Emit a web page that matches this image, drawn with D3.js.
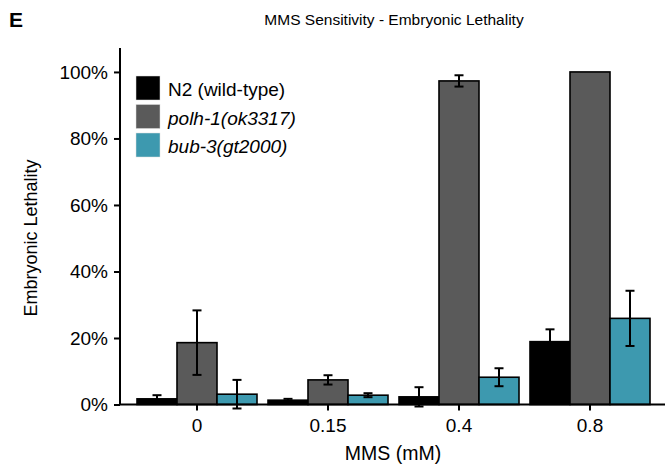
<!DOCTYPE html>
<html><head><meta charset="utf-8">
<script src="https://cdn.jsdelivr.net/npm/d3@7/dist/d3.min.js"></script>
<style>body{margin:0;background:#fff}svg{display:block;font-family:"Liberation Sans",Arial,sans-serif}</style>
</head><body>
<svg id="c" width="666" height="468"></svg>
<script>
const categories = ["0", "0.15", "0.4", "0.8"];
const seriesNames = ["N2 (wild-type)", "polh-1(ok3317)", "bub-3(gt2000)"];
const seriesItalic = [false, true, true];
const seriesColors = ["#000000", "#5a5a5a", "#3d99af"];
const n2Values = [0.017, 0.013, 0.023, 0.189];
const n2Errors = [0.011, 0.004, 0.029, 0.037];
const polhValues = [0.186, 0.074, 0.973, 1.0];
const polhErrors = [0.097, 0.014, 0.017, 0.0];
const bubValues = [0.031, 0.028, 0.082, 0.259];
const bubErrors = [0.043, 0.006, 0.027, 0.083];
const yTicks = [0, 0.2, 0.4, 0.6, 0.8, 1.0];

const values = [n2Values, polhValues, bubValues];
const errors = [n2Errors, polhErrors, bubErrors];

const svg = d3.select("#c");
const x0 = d3.scaleBand().domain(categories).range([131.5, 655.5]).padding(0);
const x1 = d3.scaleBand().domain(seriesNames).range([5.5, 125.5]).padding(0);
const y = d3.scaleLinear().domain([0, 1.072]).range([404.5, 48]);

// bars
const groups = svg.append("g").selectAll("g").data(categories).join("g")
  .attr("transform", d => `translate(${x0(d)},0)`);
groups.each(function(cat, ci) {
  const g = d3.select(this);
  seriesNames.forEach((s, si) => {
    const v = values[si][ci];
    g.append("rect")
      .attr("x", x1(s)).attr("width", x1.bandwidth())
      .attr("y", y(v)).attr("height", y(0) - y(v))
      .attr("fill", seriesColors[si]).attr("stroke", "#000").attr("stroke-width", 1.6);
  });
});
// error bars
groups.each(function(cat, ci) {
  const g = d3.select(this);
  seriesNames.forEach((s, si) => {
    const v = values[si][ci], e = errors[si][ci];
    const cx = x1(s) + x1.bandwidth() / 2;
    if (e <= 0) return;
    g.append("line").attr("x1", cx).attr("x2", cx).attr("y1", y(v + e)).attr("y2", y(v - e))
      .attr("stroke", "#000").attr("stroke-width", 2);
    [v + e, v - e].forEach(t => g.append("line")
      .attr("x1", cx - 4.5).attr("x2", cx + 4.5).attr("y1", y(t)).attr("y2", y(t))
      .attr("stroke", "#000").attr("stroke-width", 2));
  });
});

// axes
const yAxis = svg.append("g").attr("transform", "translate(120,0)")
  .call(d3.axisLeft(y).tickValues(yTicks).tickFormat(d3.format(".0%")).tickSize(6).tickPadding(6));
yAxis.select(".domain").attr("d", `M0,${y(0)}V48`).attr("stroke-width", 2);
yAxis.selectAll(".tick line").attr("stroke-width", 2);
yAxis.selectAll("text").attr("font-size", 19).attr("fill", "#000");

const xAxis = svg.append("g").attr("transform", `translate(0,${y(0)})`)
  .call(d3.axisBottom(x0).tickSize(6).tickPadding(8).tickSizeOuter(0));
xAxis.select(".domain").attr("d", "M119,0H665").attr("stroke-width", 2);
xAxis.selectAll(".tick line").attr("stroke-width", 2);
xAxis.selectAll("text").attr("font-size", 19).attr("fill", "#000");

// titles
svg.append("text").attr("x", 9).attr("y", 27).attr("font-size", 21).attr("font-weight", "bold").text("E");
svg.append("text").attr("x", 394).attr("y", 25).attr("text-anchor", "middle").attr("font-size", 15.5)
  .text("MMS Sensitivity - Embryonic Lethality");
svg.append("text").attr("x", 393).attr("y", 460).attr("text-anchor", "middle").attr("font-size", 19.5)
  .text("MMS (mM)");
svg.append("text").attr("transform", "translate(37,238) rotate(-90)").attr("text-anchor", "middle")
  .attr("font-size", 18).text("Embryonic Lethality");

// legend
const leg = svg.append("g").attr("transform", "translate(136,76)");
seriesNames.forEach((s, i) => {
  leg.append("rect").attr("x", 0).attr("y", i * 28.5).attr("width", 24).attr("height", 24)
    .attr("fill", seriesColors[i]).attr("stroke", "#ddd").attr("stroke-width", 0.5);
  leg.append("text").attr("x", 32).attr("y", i * 28.5 + 20).attr("font-size", 19)
    .attr("font-style", seriesItalic[i] ? "italic" : "normal").text(s);
});
</script>
</body></html>
